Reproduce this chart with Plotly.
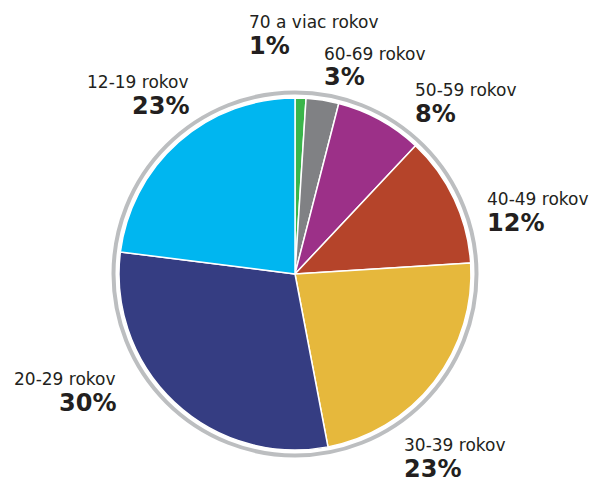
import plotly.graph_objects as go

# ---- data ----
categories = ["70 a viac rokov", "60-69 rokov", "50-59 rokov", "40-49 rokov",
              "30-39 rokov", "20-29 rokov", "12-19 rokov"]
shares = [1, 3, 8, 12, 23, 30, 23]
pct_labels = ["1%", "3%", "8%", "12%", "23%", "30%", "23%"]

# ---- style ----
colors = ["#3ab54a", "#808184", "#9c3088", "#b5442a", "#e6b83c", "#353d82", "#00b6f0"]
W, H = 589, 482
CX, CY, R = 295, 274, 176          # pie centre / radius in px
RING_R, RING_W = 181.5, 4           # decorative outer ring

# label anchor positions in px: (x, y of name line centre, xanchor)
label_pos = [
    (247, 22, "left"),
    (322, 54, "left"),
    (413, 90, "left"),
    (485, 199, "left"),
    (402, 445, "left"),
    (118, 379, "right"),
    (191, 82, "right"),
]
LINE_GAP = 23.5

fig = go.Figure()
fig.add_trace(go.Pie(
    labels=categories,
    values=shares,
    sort=False,
    direction="clockwise",
    rotation=0,
    marker=dict(colors=colors, line=dict(color="white", width=1.5)),
    textinfo="none",
    hoverinfo="label+percent",
    showlegend=False,
    domain=dict(x=[(CX - R) / W, (CX + R) / W],
                y=[(H - CY - R) / H, (H - CY + R) / H]),
))

fig.add_shape(type="circle", xref="paper", yref="paper",
              x0=(CX - RING_R) / W, x1=(CX + RING_R) / W,
              y0=(H - CY - RING_R) / H, y1=(H - CY + RING_R) / H,
              line=dict(color="#bcbec0", width=RING_W), layer="below")

for cat, pct, (x, y, anc) in zip(categories, pct_labels, label_pos):
    fig.add_annotation(x=x / W, y=1 - y / H, xref="paper", yref="paper",
                       text=cat, showarrow=False, xanchor=anc, yanchor="middle",
                       font=dict(family="DejaVu Sans", size=17, color="#231f20"))
    fig.add_annotation(x=x / W, y=1 - (y + LINE_GAP) / H, xref="paper", yref="paper",
                       text="<b>" + pct + "</b>", showarrow=False, xanchor=anc,
                       yanchor="middle",
                       font=dict(family="DejaVu Sans", size=24, color="#231f20"))

fig.update_layout(width=W, height=H, margin=dict(l=0, r=0, t=0, b=0),
                  paper_bgcolor="white", plot_bgcolor="white")
fig.write_html("out.html", config={"displayModeBar": False},
               post_script="document.body.style.margin='0';document.body.style.overflow='hidden';")
